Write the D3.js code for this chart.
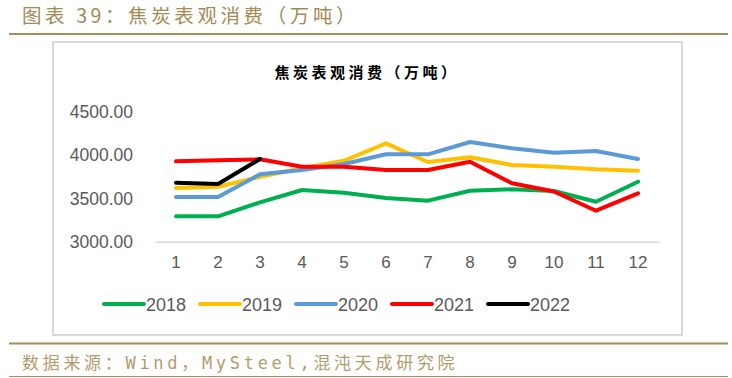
<!DOCTYPE html>
<html><head><meta charset="utf-8">
<script src="https://cdn.jsdelivr.net/npm/d3@7"></script>
<style>
body{margin:0;background:#fff;}
svg{display:block;}
</style></head>
<body>
<svg id="c" width="732" height="378"></svg>
<script>
const months = [1,2,3,4,5,6,7,8,9,10,11,12];
const yTicks = [3000,3500,4000,4500];
const seriesNames = ["2018","2019","2020","2021","2022"];
const seriesColors = ["#00b050","#ffc000","#5b9bd5","#ff0000","#000000"];
const v2018 = [3293,3293,3455,3597,3566,3505,3474,3589,3605,3585,3462,3693];
const v2019 = [3620,3635,3750,3848,3935,4136,3920,3975,3886,3866,3836,3820];
const v2020 = [3516,3516,3778,3828,3897,4009,4009,4151,4078,4028,4047,3955];
const v2021 = [3928,3940,3951,3866,3866,3828,3828,3924,3674,3580,3358,3559];
const v2022 = [3681,3666,3955];
const seriesValues = [v2018,v2019,v2020,v2021,v2022];

const svg = d3.select("#c");
const gold = "#a68c5a";

// header
svg.append("text").attr("x",22).attr("y",23).text("图表 39：焦炭表观消费（万吨）")
  .attr("font-family","Noto Sans CJK SC").attr("font-size",19.5).attr("letter-spacing",3.6)
  .attr("fill","#a48a55");
svg.append("line").attr("x1",9).attr("x2",728).attr("y1",34).attr("y2",34)
  .attr("stroke",gold).attr("stroke-width",2);
// chart frame
svg.append("rect").attr("x",53).attr("y",42).attr("width",629).attr("height",293)
  .attr("fill","#fff").attr("stroke","#d9d9d9").attr("stroke-width",2);
// footer
svg.append("line").attr("x1",9).attr("x2",728).attr("y1",343.5).attr("y2",343.5)
  .attr("stroke",gold).attr("stroke-width",2);
svg.append("text").attr("x",22).attr("y",369).text("数据来源：Wind，MySteel,混沌天成研究院")
  .attr("font-family","DejaVu Sans Mono, Noto Sans CJK SC").attr("font-size",17).attr("letter-spacing",3.7)
  .attr("fill","#b39c6c");
svg.append("line").attr("x1",9).attr("x2",728).attr("y1",376.5).attr("y2",376.5)
  .attr("stroke",gold).attr("stroke-width",1);

// chart title
svg.append("text").attr("x",367).attr("y",78).attr("text-anchor","middle")
  .text("焦炭表观消费（万吨）").attr("font-family","Noto Sans CJK SC")
  .attr("font-weight","bold").attr("font-size",15).attr("letter-spacing",3.5).attr("fill","#000");

const x = d3.scaleBand().domain(months).range([155,659]).padding(0);
const xc = d => x(d) + x.bandwidth()/2;
const y = d3.scaleLinear().domain([3000,4500]).range([241.7,111.8]);

// y axis
const yAxis = svg.append("g").attr("transform","translate(133,0)")
  .call(d3.axisLeft(y).tickValues(yTicks).tickFormat(d3.format(".2f")).tickSize(0).tickPadding(0));
yAxis.select(".domain").remove();
yAxis.selectAll("text").attr("font-family","Liberation Sans").attr("font-size",17.5).attr("fill","#595959");

// x axis
const xAxis = svg.append("g").attr("transform","translate(0,241.7)")
  .call(d3.axisBottom(x).tickSize(0).tickPadding(14).tickSizeOuter(0));
xAxis.select(".domain").attr("stroke","#d9d9d9").attr("stroke-width",1.5);
xAxis.selectAll("text").attr("font-family","Liberation Sans").attr("font-size",17).attr("fill","#595959");

const line = d3.line().x((d,i)=>xc(months[i])).y(d=>y(d));
seriesValues.forEach((vals,k)=>{
  svg.append("path").datum(vals).attr("d",line).attr("fill","none")
    .attr("stroke",seriesColors[k]).attr("stroke-width",4)
    .attr("stroke-linejoin","round").attr("stroke-linecap","round");
});

// legend
const lg = svg.append("g");
seriesNames.forEach((n,k)=>{
  const lx = 104 + k*96;
  lg.append("line").attr("x1",lx).attr("x2",lx+40).attr("y1",304).attr("y2",304)
    .attr("stroke",seriesColors[k]).attr("stroke-width",4).attr("stroke-linecap","round");
  lg.append("text").attr("x",lx+42).attr("y",310.5).text(n)
    .attr("font-family","Liberation Sans").attr("font-size",18).attr("fill","#595959");
});
</script>
</body></html>
